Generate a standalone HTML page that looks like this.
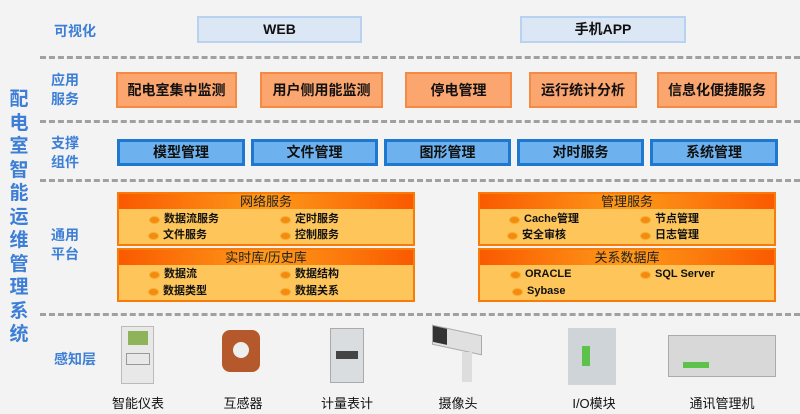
<!DOCTYPE html>
<html><head><meta charset="utf-8"><style>
*{margin:0;padding:0;box-sizing:border-box}
body{width:800px;height:414px;background:#f3f3f3;position:relative;overflow:hidden;font-family:"Liberation Sans","Noto Sans CJK SC",sans-serif;font-weight:bold}
.a{position:absolute}
.lbl{position:absolute;color:#3d7fd6;font-size:14px;line-height:19px;text-align:center}
.dash{position:absolute;left:40px;right:0;height:0;border-top:3px dashed #a0a0a0}
.viz{position:absolute;top:16px;height:27px;background:#dbe7f5;border:2px solid #b8d2ef;font-size:14px;color:#111;text-align:center;line-height:23px}
.app{position:absolute;top:72px;height:36px;background:#fba56f;border:2px solid #f58a45;font-size:14px;color:#111;text-align:center;line-height:32px}
.sup{position:absolute;top:139px;height:27px;background:#6db2ee;border:3px solid #1f78cf;font-size:14px;color:#111;text-align:center;line-height:21px}
.pl{position:absolute;height:54px;background:#fdc55a;border:2px solid #f97c0b}
.ph{height:15px;background:linear-gradient(90deg,#fa5a00,#fd9a1a 50%,#fa5a00);font-size:13px;line-height:15px;text-align:center;color:#222;font-weight:normal}
.it{position:absolute;font-size:11px;color:#111;line-height:13px}
.it:before{content:"";position:absolute;left:-15px;top:3px;width:9px;height:6px;border-radius:50%;background:#f58a10;border:1px solid #f5b030}
.dev{position:absolute;top:393px;font-size:13px;color:#111;font-weight:normal;text-align:center;width:100px}
.title{position:absolute;left:8px;top:88px;width:22px;color:#3d7fd6;font-size:19px;line-height:23.5px;text-align:center}
</style></head><body>
<div class="title">配电室智能运维管理系统</div>
<div class="lbl" style="left:45px;top:22px;width:60px">可视化</div>
<div class="viz" style="left:197px;width:165px">WEB</div>
<div class="viz" style="left:520px;width:166px">手机APP</div>
<div class="dash" style="top:56px"></div>
<div class="lbl" style="left:45px;top:71px;width:40px">应用<br>服务</div>
<div class="app" style="left:116px;width:121px">配电室集中监测</div>
<div class="app" style="left:260px;width:123px">用户侧用能监测</div>
<div class="app" style="left:405px;width:107px">停电管理</div>
<div class="app" style="left:529px;width:108px">运行统计分析</div>
<div class="app" style="left:657px;width:120px">信息化便捷服务</div>
<div class="dash" style="top:120px"></div>
<div class="lbl" style="left:45px;top:134px;width:40px">支撑<br>组件</div>
<div class="sup" style="left:117px;width:128px">模型管理</div>
<div class="sup" style="left:251px;width:127px">文件管理</div>
<div class="sup" style="left:384px;width:127px">图形管理</div>
<div class="sup" style="left:517px;width:127px">对时服务</div>
<div class="sup" style="left:650px;width:128px">系统管理</div>
<div class="dash" style="top:179px"></div>
<div class="lbl" style="left:45px;top:226px;width:40px">通用<br>平台</div>
<div class="pl" style="left:117px;top:192px;width:298px"><div class="ph">网络服务</div></div>
<div class="it" style="left:164px;top:213px">数据流服务</div>
<div class="it" style="left:163px;top:229px">文件服务</div>
<div class="it" style="left:295px;top:213px">定时服务</div>
<div class="it" style="left:295px;top:229px">控制服务</div>
<div class="pl" style="left:117px;top:248px;width:298px"><div class="ph">实时库/历史库</div></div>
<div class="it" style="left:164px;top:268px">数据流</div>
<div class="it" style="left:163px;top:285px">数据类型</div>
<div class="it" style="left:295px;top:268px">数据结构</div>
<div class="it" style="left:295px;top:285px">数据关系</div>
<div class="pl" style="left:478px;top:192px;width:298px"><div class="ph">管理服务</div></div>
<div class="it" style="left:524px;top:213px">Cache管理</div>
<div class="it" style="left:522px;top:229px">安全审核</div>
<div class="it" style="left:655px;top:213px">节点管理</div>
<div class="it" style="left:655px;top:229px">日志管理</div>
<div class="pl" style="left:478px;top:248px;width:298px"><div class="ph">关系数据库</div></div>
<div class="it" style="left:525px;top:268px">ORACLE</div>
<div class="it" style="left:655px;top:268px">SQL Server</div>
<div class="it" style="left:527px;top:285px">Sybase</div>
<div class="dash" style="top:313px"></div>
<div class="lbl" style="left:45px;top:350px;width:60px">感知层</div>
<div class="a" style="left:121px;top:326px;width:33px;height:58px;background:#e8e8e8;border:1px solid #bbb"><div style="margin:4px auto;width:20px;height:14px;background:#8fb35a"></div><div style="margin:8px auto;width:24px;height:12px;border:1px solid #999"></div></div>
<div class="a" style="left:222px;top:330px;width:38px;height:42px;background:#b5582c;border-radius:8px"><div style="margin:12px auto;width:16px;height:16px;border-radius:50%;background:#eee"></div></div>
<div class="a" style="left:330px;top:328px;width:34px;height:55px;background:#d9dde0;border:1px solid #aaa"><div style="margin:22px auto 0;width:22px;height:8px;background:#444"></div></div>
<div class="a" style="left:432px;top:330px;width:50px;height:20px;background:#e0e0e0;transform:skewY(12deg);border:1px solid #aaa"><div style="width:14px;height:16px;background:#333"></div></div>
<div class="a" style="left:462px;top:352px;width:10px;height:30px;background:#ddd"></div>
<div class="a" style="left:568px;top:328px;width:48px;height:57px;background:#cfd4d8"><div style="margin:18px 0 0 14px;width:8px;height:20px;background:#5cc24a"></div></div>
<div class="a" style="left:668px;top:335px;width:108px;height:42px;background:#d8d8d8;border:1px solid #aaa"><div style="margin:26px 0 0 14px;width:26px;height:6px;background:#5cc24a"></div></div>
<div class="dev" style="left:88px">智能仪表</div>
<div class="dev" style="left:193px">互感器</div>
<div class="dev" style="left:297px">计量表计</div>
<div class="dev" style="left:408px">摄像头</div>
<div class="dev" style="left:544px">I/O模块</div>
<div class="dev" style="left:672px">通讯管理机</div>
</body></html>
